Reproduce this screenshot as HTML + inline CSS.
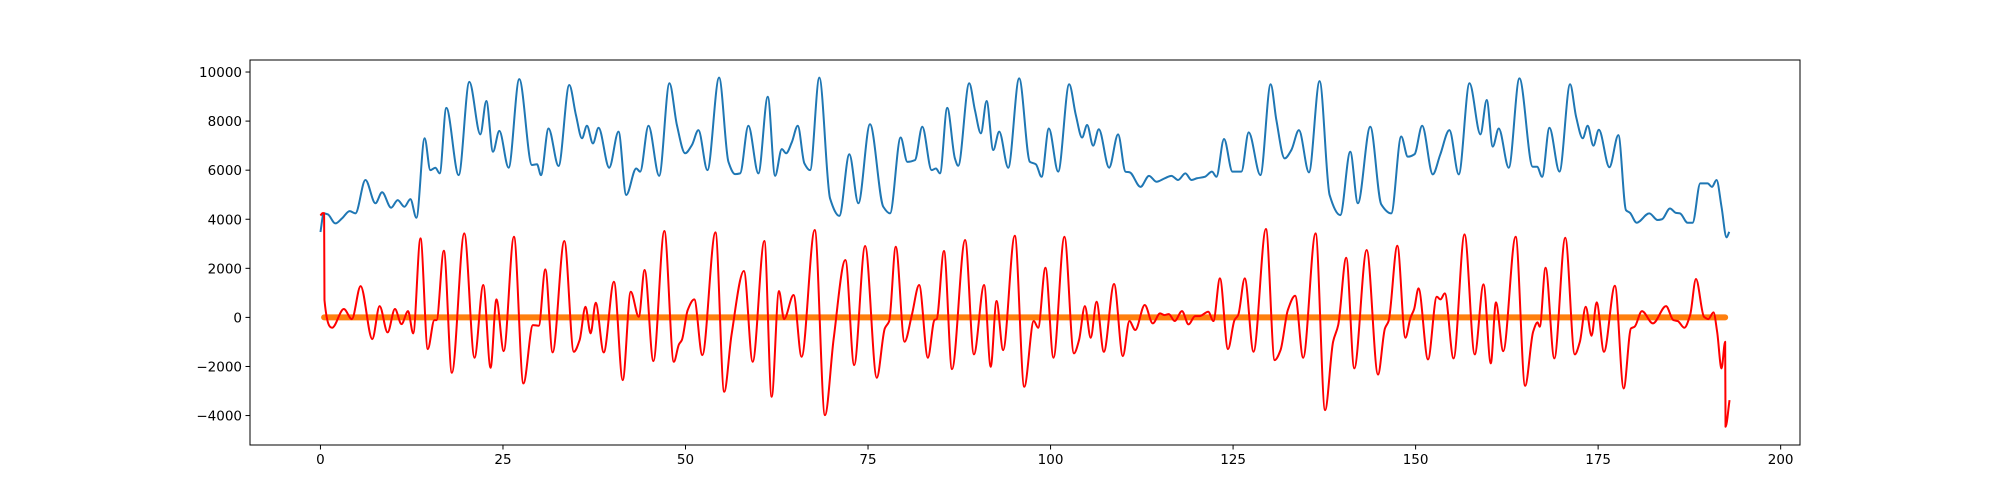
<!DOCTYPE html>
<html><head><meta charset="utf-8">
<style>
html,body{margin:0;padding:0;background:#fff;}
svg{display:block;font-family:"DejaVu Sans","Liberation Sans",sans-serif;}
</style></head>
<body>
<svg id="chartsvg" width="2000" height="500" viewBox="0 0 2000 500">
<rect x="0" y="0" width="2000" height="500" fill="#fff"/>
<g id="plotgroup"></g>
</svg>
<script>
var xTicks = [0, 25, 50, 75, 100, 125, 150, 175, 200];
var yTicks = [-4000, -2000, 0, 2000, 4000, 6000, 8000, 10000];

var blueX = [0,0.45,1.0,2.05,2.97,4.0,4.79,6.16,7.53,8.44,9.68,10.58,11.5,12.32,13.14,14.27,15.05,15.74,16.33,17.24,18.93,20.39,21.9,22.72,23.63,24.5,25.77,27.23,28.97,29.66,30.2,31.24,32.61,34.08,34.99,35.82,36.5,37.32,38.09,39.55,40.82,41.88,43.25,43.79,44.93,46.39,47.8,48.82,49.95,50.87,51.77,53.0,54.6,55.88,56.79,57.48,58.61,59.98,61.27,62.27,63.19,63.78,64.55,65.38,66.28,67.06,68.33,69.8,71.07,72.44,73.67,75.27,77.09,78.01,79.47,80.38,81.43,82.43,83.71,84.3,84.85,85.85,86.9,87.35,88.86,89.64,90.46,91.24,92.15,92.97,94.2,95.7,97.17,97.99,98.77,99.77,101.04,102.55,103.46,104.32,105.01,105.83,106.61,108.02,109.25,110.26,110.85,112.32,113.49,114.5,115.64,116.56,117.46,118.47,119.3,120.06,121.12,122.11,122.72,123.76,124.91,126.14,127.14,128.74,130.15,130.93,132.06,132.98,134.02,135.39,136.85,138.22,139.68,141.05,142.09,143.79,145.29,146.66,148.03,148.93,149.85,150.9,152.35,153.36,154.63,155.91,157.38,158.88,159.74,160.57,161.39,162.76,164.22,166.04,166.64,167.33,168.33,169.7,171.16,171.98,172.89,173.57,174.35,175.1,176.54,177.77,178.82,179.37,180.27,182.01,183.14,183.75,184.84,185.66,186.21,187.25,187.94,188.99,189.99,190.59,191.22,191.9,192.59,192.96];
var blueY = [3480,4240,4200,3830,4040,4330,4240,5600,4650,5100,4470,4780,4510,4820,4060,7300,6000,6100,5870,8540,5800,9600,7460,8820,6750,7600,6100,9710,6210,6240,5800,7700,6170,9470,8250,7300,7810,7090,7730,6100,7570,4990,6070,5940,7810,5770,9540,7840,6690,7020,7630,6000,9770,6340,5840,5870,7810,5870,8990,5770,6860,6690,7130,7810,6280,6000,9770,4850,4140,6650,4650,7870,4510,4240,7330,6340,6410,7770,6000,6070,5870,8540,6480,6180,9540,8450,7500,8820,6820,7570,6100,9740,6340,6240,5730,7700,5940,9500,8250,7330,7840,7000,7670,6100,7460,5940,5910,5320,5770,5530,5670,5770,5600,5870,5600,5670,5730,5940,5730,7270,5940,5940,7540,5800,9500,8040,6480,6820,7630,5910,9630,4990,4170,6750,4650,7770,4610,4240,7370,6550,6650,7810,5830,6620,7630,5830,9540,7460,8860,6960,7700,6100,9740,6140,6140,5730,7730,5940,9500,8180,7300,7810,7000,7650,6120,7430,4370,4260,3860,4240,3970,4000,4440,4260,4240,3860,3860,5460,5460,5320,5600,4510,3260,3490];

var redX = [0,0.3,0.5,0.55,1.6,3.2,4.3,5.5,7.1,8.1,9.2,10.2,11.1,12.0,12.7,13.7,14.7,15.6,15.9,16.9,18.0,19.7,21.1,22.3,23.3,24.1,25.1,26.5,27.8,29.1,29.9,30.8,31.8,33.4,34.7,35.5,36.3,37.0,37.7,38.8,40.2,41.4,42.5,43.6,44.4,45.6,47.1,48.4,49.1,49.5,50.3,51.2,52.3,54.1,55.3,56.3,58.0,59.2,60.8,61.8,62.8,63.5,64.8,65.9,67.7,69.1,70.3,71.9,73.1,74.6,76.2,77.3,77.9,78.8,80.0,81.0,82.0,83.2,84.1,84.4,85.4,86.5,88.3,89.5,90.9,91.8,92.6,93.5,95.1,96.4,97.7,98.3,99.3,100.4,101.9,103.2,103.9,104.7,105.5,106.3,107.3,108.7,109.9,110.8,111.6,112.9,114.0,115.0,115.6,116.2,117.0,118.0,118.9,119.8,120.4,121.6,122.3,123.2,124.3,125.2,125.7,126.6,127.8,129.5,130.7,131.5,132.5,133.5,134.6,136.3,137.6,138.7,139.4,140.5,141.6,143.3,144.85,145.8,146.3,147.5,148.6,149.3,149.8,150.4,151.7,152.9,153.4,154.0,155.2,156.7,158.1,159.3,160.3,161.0,162.0,163.7,165.0,166.1,166.7,167.0,167.8,169.0,170.5,171.8,172.5,173.3,174.1,174.8,175.8,177.3,178.5,179.5,180.0,181.0,182.5,184.3,185.3,185.9,186.8,187.6,188.4,189.5,190.1,190.8,191.3,191.9,192.4,192.45,193.0];
var redY = [4150,4250,4250,707,-421,340,-68,1277,-883,462,-612,340,-272,258,-652,3221,-1291,-109,-109,2718,-2256,3425,-1644,1318,-2052,734,-1373,3289,-2691,-313,-340,1957,-1427,3112,-1400,-924,435,-652,598,-1427,1454,-2555,1046,27,1930,-1780,3520,-1808,-1101,-924,299,734,-1536,3466,-3031,-720,1889,-1808,3112,-3234,1074,-68,911,-1604,3561,-3982,-856,2337,-1943,2908,-2460,-448,-149,2881,-992,95,1318,-1644,-109,-68,2704,-2106,3153,-1509,1318,-2011,666,-1332,3330,-2827,-149,-421,2025,-1644,3289,-1468,-924,462,-829,639,-1400,1359,-1576,-149,-516,503,-245,163,95,136,-149,258,-285,54,54,231,-149,1590,-1291,-109,95,1590,-1400,3601,-1740,-1332,299,883,-1644,3425,-3778,-992,-313,2433,-2079,2745,-2330,-448,-149,2922,-829,-14,340,1182,-1712,843,734,979,-1672,3384,-1509,1345,-1875,612,-1373,3289,-2786,-584,-204,-380,2025,-1672,3248,-1509,-992,435,-747,612,-1400,1291,-2895,-448,-380,258,-245,462,-109,-149,-421,95,1563,27,-68,204,-584,-2079,-992,-4458,-3370];

var orangeStart = 0.5;
var orangeEnd = 192.4;
var orangeValue = 0;

var PL = 250, PR = 1800, PT = 60, PB = 445;
var xMin = -9.65, xMax = 202.65;
var yMin = -5200, yMax = 10490;
function sx(v){ return PL + (v - xMin) / (xMax - xMin) * (PR - PL); }
function sy(v){ return PB - (v - yMin) / (yMax - yMin) * (PB - PT); }

var SVGNS = 'http://www.w3.org/2000/svg';
var plotG = document.getElementById('plotgroup');
function mk(tag, attrs, parent){
  var e = document.createElementNS(SVGNS, tag);
  for (var k in attrs) e.setAttribute(k, attrs[k]);
  (parent || plotG).appendChild(e);
  return e;
}

function monotonePath(xs, ys){
  var n = Math.min(xs.length, ys.length);
  var px = [], py = [];
  for (var i = 0; i < n; i++) { px.push(sx(xs[i])); py.push(sy(ys[i])); }
  var d = [], m = [];
  for (var i = 0; i < n - 1; i++) d.push((py[i+1]-py[i]) / Math.max(px[i+1]-px[i], 1e-6));
  m[0] = d[0]; m[n-1] = d[n-2];
  for (var i = 1; i < n - 1; i++) {
    if (d[i-1] * d[i] <= 0) m[i] = 0;
    else { var h0 = px[i]-px[i-1], h1 = px[i+1]-px[i];
      var w1 = 2*h1 + h0, w2 = h1 + 2*h0;
      m[i] = (w1 + w2) / (w1/d[i-1] + w2/d[i]); }
  }
  var s = 'M' + px[0].toFixed(2) + ',' + py[0].toFixed(2);
  for (var i = 0; i < n - 1; i++) {
    var h = px[i+1]-px[i];
    if (h < 1.5) { s += 'L' + px[i+1].toFixed(2) + ',' + py[i+1].toFixed(2); continue; }
    s += 'C' + (px[i]+h/3).toFixed(2) + ',' + (py[i]+m[i]*h/3).toFixed(2) + ' ' +
         (px[i+1]-h/3).toFixed(2) + ',' + (py[i+1]-m[i+1]*h/3).toFixed(2) + ' ' +
         px[i+1].toFixed(2) + ',' + py[i+1].toFixed(2);
  }
  return s;
}

function drawChart(){
  var defs = mk('defs', {});
  var clipP = mk('clipPath', {id: 'plotclip'}, defs);
  mk('rect', {x: PL, y: PT, width: PR - PL, height: PB - PT}, clipP);
  var seriesG = mk('g', {'clip-path': 'url(#plotclip)'});
  
  

  var blueLine = mk('path', {d: monotonePath(blueX, blueY), fill: 'none', stroke: '#1f77b4', 'stroke-width': 2, 'stroke-linejoin': 'round'}, seriesG);
  
  

  var orangeLine = mk('line', {x1: sx(orangeStart), x2: sx(orangeEnd), y1: sy(orangeValue), y2: sy(orangeValue), stroke: '#ff7f0e', 'stroke-width': 6, 'stroke-linecap': 'round'}, seriesG);
  
  

  var redLine = mk('path', {d: monotonePath(redX, redY), fill: 'none', stroke: '#ff0000', 'stroke-width': 2, 'stroke-linejoin': 'round'}, seriesG);
  
  

  var frameRect = mk('rect', {x: PL, y: PT, width: PR - PL, height: PB - PT, fill: 'none', stroke: '#000', 'stroke-width': 1});
  
  

  xTicks.forEach(function(v){
    var x = sx(v);
    var t = mk('line', {x1: x, x2: x, y1: PB, y2: PB + 4.5, stroke: '#000', 'stroke-width': 1});
    
    
    var lb = mk('text', {x: x, y: PB + 19, 'text-anchor': 'middle', 'font-size': 13.5, fill: '#000'});
    lb.textContent = String(v);
    
    
  });
  yTicks.forEach(function(v){
    var y = sy(v);
    var t = mk('line', {x1: PL - 4.5, x2: PL, y1: y, y2: y, stroke: '#000', 'stroke-width': 1});
    
    
    var lb = mk('text', {x: PL - 8, y: y + 5, 'text-anchor': 'end', 'font-size': 13.5, fill: '#000'});
    lb.textContent = v < 0 ? '\u2212' + Math.abs(v) : String(v);
    
    
  });
}
try { drawChart(); } catch (err) { console.log(err); }
</script>
</body></html>
